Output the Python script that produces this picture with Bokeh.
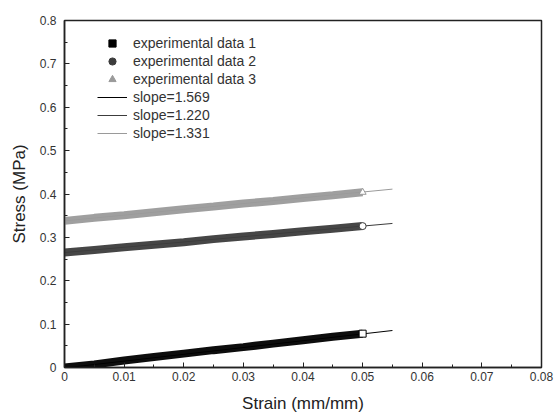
from bokeh.plotting import figure
from bokeh.models import Range1d, Legend, LegendItem, SingleIntervalTicker
from bokeh.embed import file_html
from bokeh.resources import INLINE

# strain values (mm/mm)
strain = [0.0, 0.005, 0.01, 0.015, 0.02, 0.025, 0.03, 0.035, 0.04, 0.045, 0.05]
# stress values (MPa)
stress1 = [0.0, 0.007, 0.016, 0.024, 0.032, 0.040, 0.047, 0.055, 0.063, 0.071, 0.078]
stress2 = [0.265, 0.271, 0.277, 0.283, 0.289, 0.296, 0.302, 0.308, 0.314, 0.320, 0.326]
stress3 = [0.338, 0.345, 0.351, 0.358, 0.365, 0.371, 0.378, 0.384, 0.391, 0.397, 0.404]

# linear fits
fit_x = [0.0, 0.055]
slopes = [1.569, 1.220, 1.331]
intercepts = [-0.001, 0.265, 0.338]

data_labels = ["experimental data 1", "experimental data 2", "experimental data 3"]
fit_labels = ["slope=1.569", "slope=1.220", "slope=1.331"]

colors = ["#000000", "#3c3c3c", "#9a9a9a"]
markers = ["square", "circle", "triangle"]
FONT = "Liberation Sans"

p = figure(width=556, height=420, output_backend="svg", toolbar_location=None,
           x_range=Range1d(0, 0.08), y_range=Range1d(0, 0.8),
           min_border_left=64, min_border_right=15, min_border_top=20, min_border_bottom=53)
p.background_fill_color = "white"
p.border_fill_color = "white"
p.grid.visible = False
p.outline_line_color = "#222222"
p.outline_line_width = 1.5

for ax in (p.xaxis[0], p.yaxis[0]):
    ax.major_tick_in = 5
    ax.major_tick_out = 0
    ax.minor_tick_in = 3
    ax.minor_tick_out = 0
    ax.axis_line_color = "#222222"
    ax.axis_line_width = 1.5
    ax.major_tick_line_color = "#222222"
    ax.minor_tick_line_color = "#222222"
    ax.major_label_text_font = FONT
    ax.major_label_text_font_size = "12px"
    ax.major_label_text_color = "#333333"
    ax.axis_label_text_font = FONT
    ax.axis_label_text_font_size = "17px"
    ax.axis_label_text_font_style = "normal"
    ax.axis_label_text_color = "#222222"

p.xaxis.ticker = SingleIntervalTicker(interval=0.01, num_minor_ticks=2)
p.yaxis.ticker = SingleIntervalTicker(interval=0.1, num_minor_ticks=2)
p.xaxis.axis_label = "Strain (mm/mm)"
p.yaxis.axis_label = "Stress (MPa)"
p.xaxis.major_label_standoff = 4
p.yaxis.major_label_standoff = 8
p.xaxis.axis_label_standoff = 10
p.yaxis.axis_label_standoff = 8

series = [stress1, stress2, stress3]
items = []
fit_items = []
for i, ys in enumerate(series):
    fy = [slopes[i] * x + intercepts[i] for x in fit_x]
    fr = p.line(fit_x, fy, line_color=colors[i], line_width=1)
    p.line(strain, ys, line_color=colors[i], line_width=8, line_alpha=0.95)
    p.scatter(strain[-1:], ys[-1:], marker=markers[i], size=7,
              fill_color="white", line_color=colors[i], line_width=1)
    proxy = p.scatter([-1], [-1], marker=markers[i], size=7,
                      fill_color=colors[i], line_color=colors[i])
    items.append(LegendItem(label=data_labels[i], renderers=[proxy]))
    fit_items.append(fr)

for i, fr in enumerate(fit_items):
    items.append(LegendItem(label=fit_labels[i], renderers=[fr]))

legend = Legend(items=items, location=(33, 225), border_line_color=None,
                background_fill_alpha=0, padding=0, margin=0, spacing=0,
                glyph_width=30, glyph_height=18, label_height=18,
                label_text_font=FONT, label_text_font_size="14px",
                label_text_color="#333333", label_standoff=6)
p.add_layout(legend)

open("out.html", "w").write(file_html(p, INLINE))
